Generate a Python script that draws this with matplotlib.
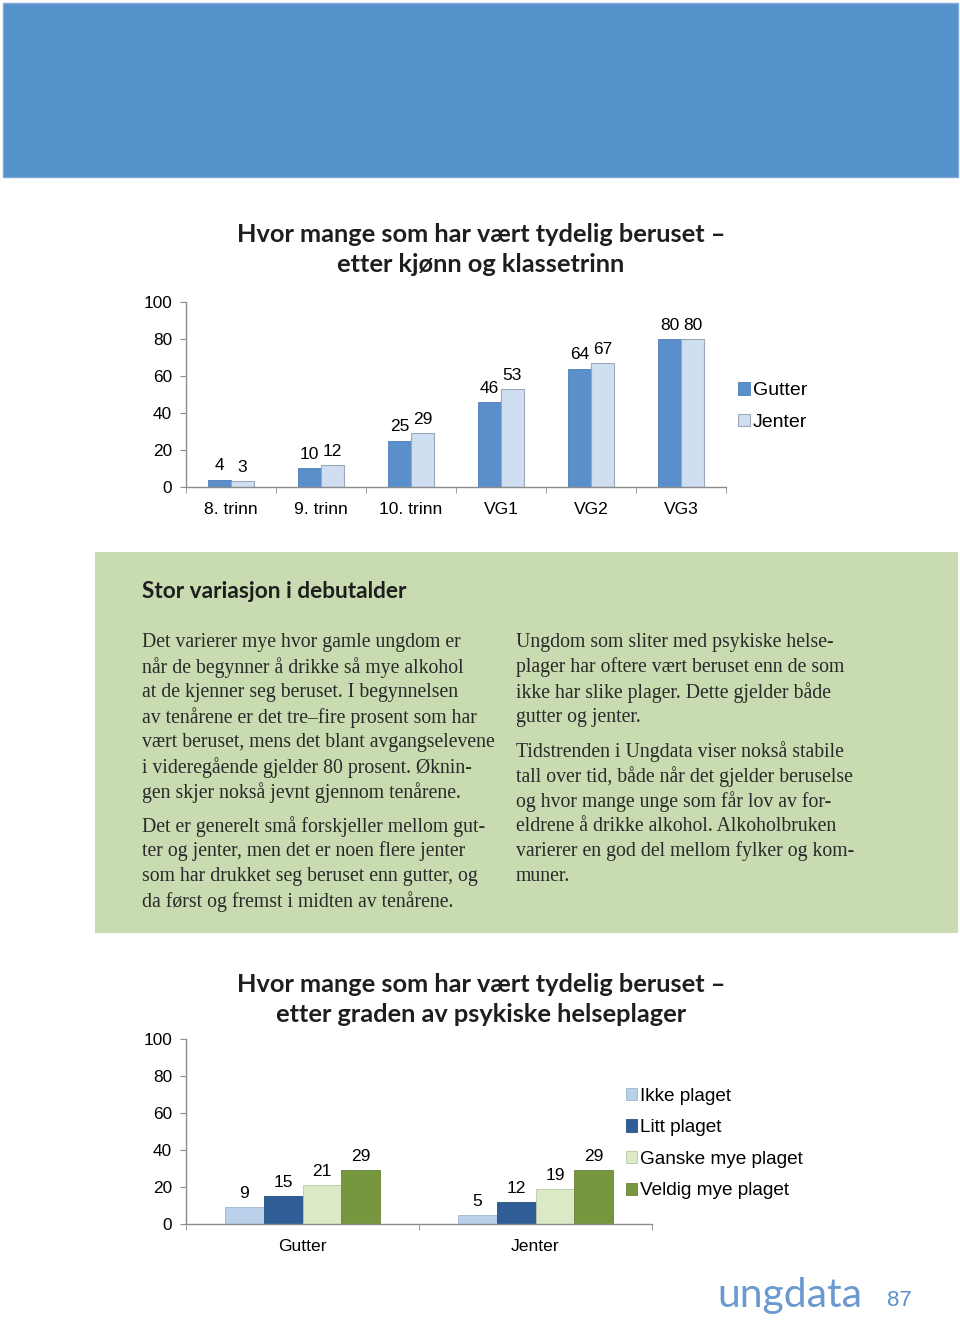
import matplotlib.pyplot as plt
import matplotlib.patches as patches
import numpy as np

# data, chart 1
trinn = ['8. trinn', '9. trinn', '10. trinn', 'VG1', 'VG2', 'VG3']
gutter = [4, 10, 25, 46, 64, 80]
jenter = [3, 12, 29, 53, 67, 80]

# data, chart 2
kjonn = ['Gutter', 'Jenter']
plager = ['Ikke plaget', 'Litt plaget', 'Ganske mye plaget', 'Veldig mye plaget']
plager_verdier = [[9, 5], [15, 12], [21, 19], [29, 29]]

W, H = 960, 1323
fig = plt.figure(figsize=(W / 100, H / 100), dpi=100)
fig.patch.set_facecolor('white')

def fx(x):
    return x / W

def fy(y):
    return 1 - y / H

sans = ['Liberation Sans', 'DejaVu Sans']
head = ['Lato', 'DejaVu Sans']
serif = ['Liberation Serif', 'DejaVu Serif']

# top blue band
fig.add_artist(patches.Rectangle((fx(3), fy(177)), fx(955), 174 / H,
                                 transform=fig.transFigure, facecolor='#5592cb',
                                 edgecolor='#7fa9d6', lw=1))

# green text box
fig.add_artist(patches.Rectangle((fx(95), fy(933)), fx(863), 381 / H,
                                 transform=fig.transFigure, facecolor='#c9dbb0',
                                 edgecolor='none'))

def styled_axes(ax):
    ax.set_ylim(0, 100)
    ax.set_yticks(range(0, 101, 20))
    for s in ['top', 'right']:
        ax.spines[s].set_visible(False)
    for s in ['left', 'bottom']:
        ax.spines[s].set_color('#8c8c8c')
        ax.spines[s].set_linewidth(1)
    ax.tick_params(axis='y', direction='out', length=4, color='#8c8c8c',
                   labelsize=12.4, pad=6)
    ax.tick_params(axis='x', which='major', length=0, labelsize=12.6, pad=11)
    ax.tick_params(axis='x', which='minor', length=4, color='#8c8c8c')
    for lab in ax.get_yticklabels() + ax.get_xticklabels():
        lab.set_fontfamily(sans)

def label_bars(ax, bars, vals):
    for r, v in zip(bars, vals):
        ax.annotate(str(v), (r.get_x() + r.get_width() / 2, v), xytext=(0, 4.5),
                    textcoords='offset points', ha='center', va='bottom',
                    fontsize=12.5, family=sans)

def title(y1, y2, l1, l2):
    for y, t in [(y1, l1), (y2, l2)]:
        fig.text(fx(481), fy(y), t, ha='center', va='center', fontsize=18.3,
                 fontweight='bold', family=head, color='#1e1e1e')

# ---------- chart 1 ----------
title(234, 265, 'Hvor mange som har vært tydelig beruset –', 'etter kjønn og klassetrinn')

ax1 = fig.add_axes([fx(186), fy(487), 540 / W, 185 / H])
x = np.arange(len(trinn))
bw = 0.255
b1 = ax1.bar(x - bw / 2, gutter, bw, color='#5b8fcc', edgecolor='#4a7db8', lw=0.6, label='Gutter')
b2 = ax1.bar(x + bw / 2, jenter, bw, color='#cfdef0', edgecolor='#9aa8b8', lw=0.8, label='Jenter')
ax1.set_xlim(-0.5, len(trinn) - 0.5)
ax1.set_xticks(x)
ax1.set_xticklabels(trinn)
ax1.set_xticks(np.arange(-0.5, len(trinn), 1), minor=True)
styled_axes(ax1)
label_bars(ax1, b1, gutter)
label_bars(ax1, b2, jenter)
ax1.legend(loc='center left', bbox_to_anchor=(fx(738), fy(406.5)),
           bbox_transform=fig.transFigure, frameon=False, borderaxespad=0, borderpad=0,
           prop={'family': sans, 'size': 14}, handlelength=0.6, handleheight=0.6,
           handletextpad=0.15, labelspacing=0.74)

# ---------- text box ----------
fig.text(fx(142), fy(592), 'Stor variasjon i debutalder', ha='left', va='center',
         fontsize=16.3, fontweight='bold', family=head, color='#1e1e1e')

col1 = [
    (641, 'Det varierer mye hvor gamle ungdom er'),
    (666, 'når de begynner å drikke så mye alkohol'),
    (691, 'at de kjenner seg beruset. I begynnelsen'),
    (716, 'av tenårene er det tre–fire prosent som har'),
    (741, 'vært beruset, mens det blant avgangselevene'),
    (766, 'i videregående gjelder 80 prosent. Øknin-'),
    (791, 'gen skjer nokså jevnt gjennom tenårene.'),
    (825, 'Det er generelt små forskjeller mellom gut-'),
    (850, 'ter og jenter, men det er noen flere jenter'),
    (875, 'som har drukket seg beruset enn gutter, og'),
    (900, 'da først og fremst i midten av tenårene.'),
]
col2 = [
    (641, 'Ungdom som sliter med psykiske helse-'),
    (666, 'plager har oftere vært beruset enn de som'),
    (691, 'ikke har slike plager. Dette gjelder både'),
    (716, 'gutter og jenter.'),
    (750, 'Tidstrenden i Ungdata viser nokså stabile'),
    (775, 'tall over tid, både når det gjelder beruselse'),
    (800, 'og hvor mange unge som får lov av for-'),
    (825, 'eldrene å drikke alkohol. Alkoholbruken'),
    (850, 'varierer en god del mellom fylker og kom-'),
    (875, 'muner.'),
]
for xpos, col in [(142, col1), (516, col2)]:
    for y, t in col:
        fig.text(fx(xpos), fy(y + 1.5), t, ha='left', va='center', fontsize=14.2,
                 family=serif, color='#2a2a2a')

# ---------- chart 2 ----------
title(984, 1015, 'Hvor mange som har vært tydelig beruset –', 'etter graden av psykiske helseplager')

ax2 = fig.add_axes([fx(186), fy(1224), 466 / W, 185 / H])
x2 = np.arange(len(kjonn))
farger = ['#b9d1ea', '#2e5e95', '#dbe9c6', '#77973f']
kanter = ['#9fb6cf', '#28507f', '#b8c8a2', '#66833a']
bw2 = 0.167
for i, (navn, vals) in enumerate(zip(plager, plager_verdier)):
    pos = x2 + (i - 1.5) * bw2
    bars = ax2.bar(pos, vals, bw2, color=farger[i], edgecolor=kanter[i], lw=0.6, label=navn)
    label_bars(ax2, bars, vals)
ax2.set_xlim(-0.5, len(kjonn) - 0.5)
ax2.set_xticks(x2)
ax2.set_xticklabels(kjonn)
ax2.set_xticks(np.arange(-0.5, len(kjonn), 1), minor=True)
styled_axes(ax2)
ax2.legend(loc='center left', bbox_to_anchor=(fx(626), fy(1143.5)),
           bbox_transform=fig.transFigure, frameon=False, borderaxespad=0, borderpad=0,
           prop={'family': sans, 'size': 13.7}, handlelength=0.6, handleheight=0.6,
           handletextpad=0.15, labelspacing=0.77)

# ---------- footer ----------
fig.text(fx(717), fy(1296), 'ungdata', ha='left', va='center', fontsize=29.5,
         fontweight='normal', family=['Lato', 'DejaVu Sans'], color='#6a9ad0')
fig.text(fx(887), fy(1300), '87', ha='left', va='center', fontsize=16,
         family=sans, color='#5b8fcc')

fig.savefig('out.png', dpi=100)
